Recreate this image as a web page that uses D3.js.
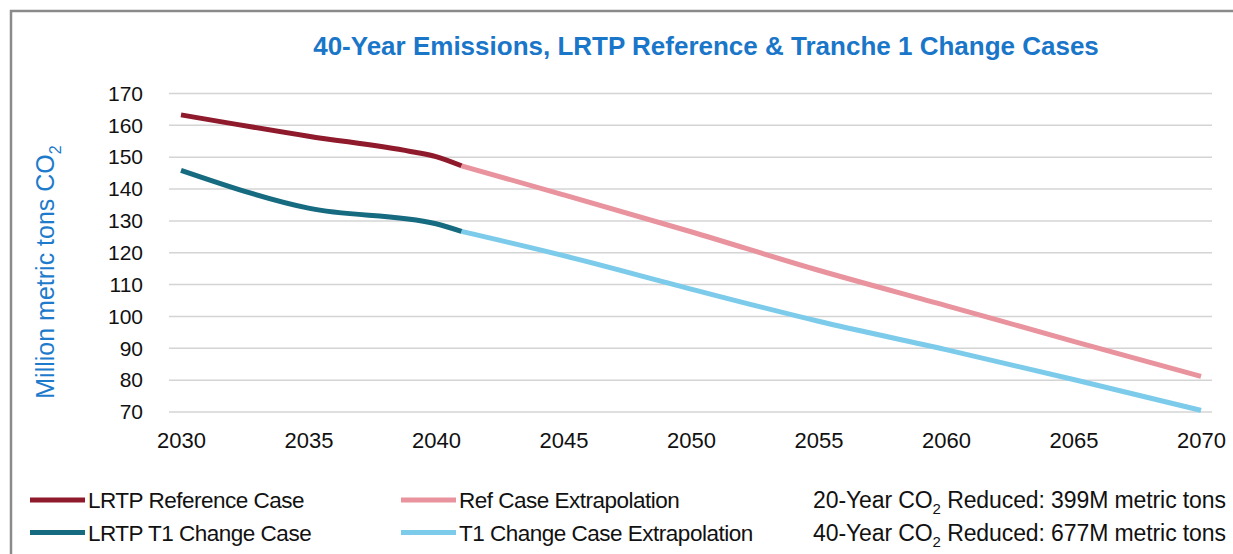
<!DOCTYPE html>
<html>
<head>
<meta charset="utf-8">
<script src="https://cdn.jsdelivr.net/npm/d3@7"></script>
<style>
  body { margin: 0; background: #fff; }
  text { font-family: 'Liberation Sans', Arial, sans-serif; }
</style>
</head>
<body>
<svg id="chart" width="1233" height="554"></svg>
<script>
// values
const refYears = [2030, 2035, 2039, 2040, 2041]
const refValues = [163.3, 156.6, 151.8, 150.2, 147.3]
const t1Years = [2030, 2035, 2040, 2041]
const t1Values = [145.9, 134, 129.1, 126.7]
const refExtYears = [2041, 2045, 2050, 2055, 2060, 2065, 2070]
const refExtValues = [147.3, 138.2, 126.6, 114.5, 103.4, 92.2, 81.2]
const t1ExtYears = [2041, 2045, 2050, 2055, 2060, 2065, 2070]
const t1ExtValues = [126.7, 119.1, 108.6, 98.5, 89.6, 80.2, 70.5]
const yTicks = [70, 80, 90, 100, 110, 120, 130, 140, 150, 160, 170]
const xTicks = [2030, 2035, 2040, 2045, 2050, 2055, 2060, 2065, 2070]

const svg = d3.select('#chart')

// frame
svg.append('rect')
  .attr('x', 11).attr('y', 11)
  .attr('width', 1240).attr('height', 560)
  .attr('fill', 'none')
  .attr('stroke', '#8a8a8a')
  .attr('stroke-width', 2.5)

const x = d3.scaleLinear().domain([2030, 2070]).range([181, 1201])
const y = d3.scaleLinear().domain([70, 170]).range([412, 93.5])

// gridlines
svg.append('g')
  .selectAll('line')
  .data(yTicks)
  .enter()
  .append('line')
  .attr('x1', 169)
  .attr('x2', 1212)
  .attr('y1', d => y(d))
  .attr('y2', d => y(d))
  .attr('stroke', '#d4d4d4')
  .attr('stroke-width', 1.5)

const yAxis = svg.append('g')
  .attr('transform', 'translate(143,0)')
  .call(d3.axisLeft(y).tickValues(yTicks).tickSize(0).tickPadding(0))
yAxis.select('.domain').remove()
yAxis.selectAll('text')
  .attr('font-size', 21)
  .attr('fill', '#111')
  .style('font-family', "'Liberation Sans', Arial, sans-serif")

const xAxis = svg.append('g')
  .attr('transform', 'translate(0,432)')
  .call(d3.axisBottom(x).tickValues(xTicks).tickFormat(d3.format('d')).tickSize(0).tickPadding(0))
xAxis.select('.domain').remove()
xAxis.selectAll('text')
  .attr('font-size', 22)
  .attr('fill', '#111')
  .style('font-family', "'Liberation Sans', Arial, sans-serif")

const line = d3.line()
  .x(d => x(d[0]))
  .y(d => y(d[1]))
  .curve(d3.curveMonotoneX)

const series = [
  { years: refExtYears, values: refExtValues, color: '#e8939d' },
  { years: t1ExtYears, values: t1ExtValues, color: '#7ccbea' },
  { years: refYears, values: refValues, color: '#8e1a2c' },
  { years: t1Years, values: t1Values, color: '#176b80' }
]

series.forEach(s => {
  svg.append('path')
    .datum(d3.zip(s.years, s.values))
    .attr('d', line)
    .attr('fill', 'none')
    .attr('stroke', s.color)
    .attr('stroke-width', 5)
    .attr('stroke-linecap', 'butt')
})

// title
svg.append('text')
  .text('40-Year Emissions, LRTP Reference & Tranche 1 Change Cases')
  .attr('x', 706)
  .attr('y', 55)
  .attr('text-anchor', 'middle')
  .attr('font-size', 26)
  .attr('font-weight', 'bold')
  .attr('fill', '#1976c8')

// y axis title
const yt = svg.append('text')
  .attr('transform', 'translate(54,272) rotate(-90)')
  .attr('text-anchor', 'middle')
  .attr('font-size', 25)
  .attr('fill', '#1e7bcc')
yt.append('tspan').text('Million metric tons CO')
yt.append('tspan').text('2').attr('font-size', 16).attr('dy', 7)

// legend
const legend = [
  { label: 'LRTP Reference Case', color: '#8e1a2c', x: 30, y: 500 },
  { label: 'LRTP T1 Change Case', color: '#176b80', x: 30, y: 532.5 },
  { label: 'Ref Case Extrapolation', color: '#e8939d', x: 401, y: 500 },
  { label: 'T1 Change Case Extrapolation', color: '#7ccbea', x: 401, y: 532.5 }
]
legend.forEach(l => {
  svg.append('line')
    .attr('x1', l.x).attr('x2', l.x + 55)
    .attr('y1', l.y).attr('y2', l.y)
    .attr('stroke', l.color)
    .attr('stroke-width', 5)
  svg.append('text')
    .text(l.label)
    .attr('x', l.x + 58)
    .attr('y', l.y + 8)
    .attr('font-size', 22.5)
    .attr('letter-spacing', -0.5)
    .attr('fill', '#111')
})

const notes = [
  { pre: '20-Year CO', post: ' Reduced: 399M metric tons', y: 508 },
  { pre: '40-Year CO', post: ' Reduced: 677M metric tons', y: 540.5 }
]
notes.forEach(n => {
  const t = svg.append('text')
    .attr('x', 813)
    .attr('y', n.y)
    .attr('font-size', 23)
    .attr('letter-spacing', -0.1)
    .attr('fill', '#111')
  t.append('tspan').text(n.pre)
  t.append('tspan').text('2').attr('font-size', 15).attr('dy', 6)
  t.append('tspan').text(n.post).attr('dy', -6)
})
</script>
</body>
</html>
